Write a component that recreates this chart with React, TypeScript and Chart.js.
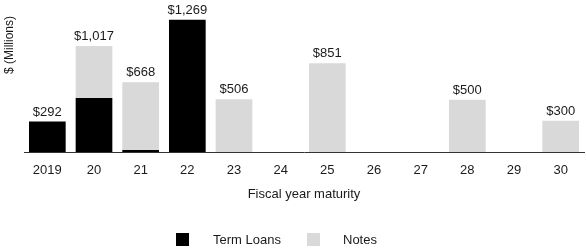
import React, { useEffect, useRef } from "react";
import { Chart, registerables } from "chart.js";

Chart.register(...registerables);

const categories = ["2019", "20", "21", "22", "23", "24", "25", "26", "27", "28", "29", "30"];
const termLoans = [292, 517, 18, 1269, 0, 0, 0, 0, 0, 0, 0, 0];
const notes = [0, 500, 650, 0, 506, 0, 851, 0, 0, 500, 0, 300];
const seriesNames = ["Term Loans", "Notes"];
const seriesColors = ["#000000", "#d9d9d9"];
const yTitle = "$ (Millions)";
const xTitle = "Fiscal year maturity";

const FONT = "Arial, 'Liberation Sans', sans-serif";
const TEXT = "#1a1a1a";

const fmt = (v: number) => "$" + v.toLocaleString("en-US");

const overlayPlugin = {
  id: "overlay",
  afterDatasetsDraw(chart: any) {
    const ctx = chart.ctx;
    const y = chart.scales.y;
    const x = chart.scales.x;
    ctx.save();
    ctx.fillStyle = TEXT;
    ctx.font = `13px ${FONT}`;
    ctx.textAlign = "center";
    ctx.textBaseline = "alphabetic";
    categories.forEach((_, i) => {
      const total = termLoans[i] + notes[i];
      if (!total) return;
      const px = x.getPixelForValue(i);
      const py = y.getPixelForValue(total);
      ctx.fillText(fmt(total), px, py - 6);
    });
    // y title
    ctx.save();
    ctx.font = `12px ${FONT}`;
    ctx.translate(10, 45);
    ctx.rotate(-Math.PI / 2);
    ctx.textBaseline = "middle";
    ctx.textAlign = "center";
    ctx.fillText(yTitle, 0, 0);
    ctx.restore();
    // legend
    const boxX = [176, 307];
    const textX = [213, 343];
    ctx.font = `13px ${FONT}`;
    ctx.textAlign = "left";
    ctx.textBaseline = "middle";
    seriesNames.forEach((n, i) => {
      ctx.fillStyle = seriesColors[i];
      ctx.fillRect(boxX[i], 233, 13, 13);
      ctx.fillStyle = TEXT;
      ctx.fillText(n, textX[i], 240);
    });
    ctx.restore();
  },
};

export default function App() {
  const ref = useRef<HTMLCanvasElement>(null);
  useEffect(() => {
    if (!ref.current) return;
    const chart = new Chart(ref.current, {
      type: "bar",
      data: {
        labels: categories,
        datasets: [
          { label: seriesNames[0], data: termLoans, backgroundColor: seriesColors[0] },
          { label: seriesNames[1], data: notes, backgroundColor: seriesColors[1] },
        ],
      },
      options: {
        responsive: false,
        animation: false,
        devicePixelRatio: 1,
        layout: { padding: { left: 24, right: 2, top: 6, bottom: 48 } },
        datasets: { bar: { barPercentage: 0.786, categoryPercentage: 1 } },
        plugins: {
          legend: { display: false },
          tooltip: { enabled: false },
        },
        scales: {
          x: {
            stacked: true,
            grid: { display: false, drawTicks: false },
            border: { display: true, color: "#333", width: 1 },
            ticks: { color: TEXT, font: { size: 13, family: FONT }, padding: 11, maxRotation: 0, autoSkip: false },
            title: { display: true, text: xTitle, color: TEXT, font: { size: 13, family: FONT }, padding: { top: 0, bottom: 0 } },
            afterFit: (s: any) => { s.height = 50; },
          },
          y: {
            stacked: true,
            display: false,
            min: 0,
            max: 1400,
          },
        },
      },
      plugins: [overlayPlugin],
    });
    return () => chart.destroy();
  }, []);
  return (
    <div style={{ position: "absolute", left: 0, top: 0, width: 586, height: 250, background: "#fff" }}>
      <canvas ref={ref} width={586} height={250} />
    </div>
  );
}
